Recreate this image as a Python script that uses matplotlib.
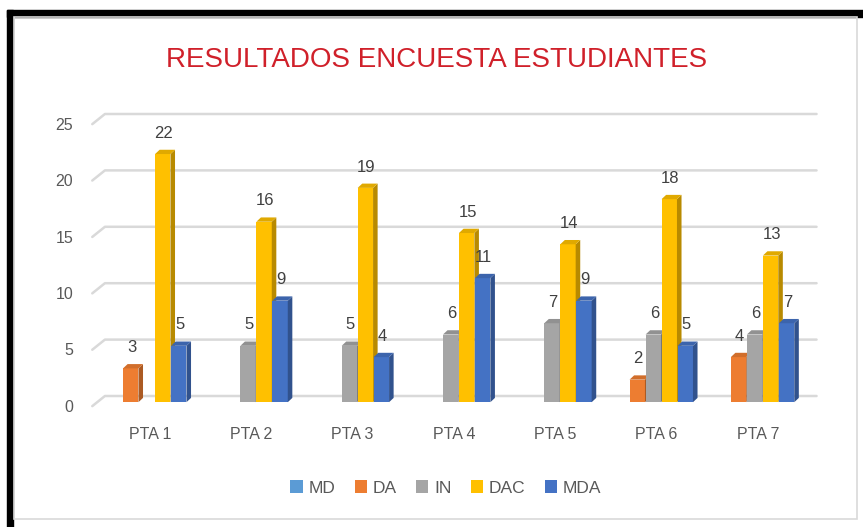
import matplotlib
matplotlib.use("Agg")
import matplotlib.pyplot as plt
from matplotlib.patches import Rectangle, Polygon, Patch
from matplotlib.colors import to_rgb

# ---- data ----
categories = ["PTA 1", "PTA 2", "PTA 3", "PTA 4", "PTA 5", "PTA 6", "PTA 7"]
series_names = ["MD", "DA", "IN", "DAC", "MDA"]
md = [None, None, None, None, None, None, None]
da = [3, None, None, None, None, 2, 4]
inn = [None, 5, 5, 6, 7, 6, 6]
dac = [22, 16, 19, 15, 14, 18, 13]
mda = [5, 9, 4, 11, 9, 5, 7]
series_values = [md, da, inn, dac, mda]
y_ticks = [0, 5, 10, 15, 20, 25]
title = "RESULTADOS ENCUESTA ESTUDIANTES"

colors = ["#5B9BD5", "#ED7D31", "#A5A5A5", "#FFC000", "#4472C4"]
FONT = "Liberation Sans"


def shade(c, f):
    return tuple(min(1, x * f) for x in to_rgb(c))


W, H = 863, 527
fig = plt.figure(figsize=(W / 100, H / 100), dpi=100)
fig.patch.set_facecolor("white")

# frame: black band on top/left, thin grey inner border
fig.patches.append(Rectangle((7 / W, 1 - 17 / H), (W - 7) / W, 7 / H,
                             transform=fig.transFigure, color="black", zorder=0))
fig.patches.append(Rectangle((7 / W, 0), 6 / W, 1 - 10 / H,
                             transform=fig.transFigure, color="black", zorder=0))
fig.patches.append(Rectangle((14 / W, 1 - 519 / H), 843 / W, 502 / H,
                             transform=fig.transFigure, fill=False,
                             edgecolor="#D9D9D9", lw=1.2, zorder=0))

# plot axes (category index on x, value on y)
x_px0, x_step = 150.0, 101.3
y_px0, y_step = 396.0, 11.28
xl = (-0.5, 6.5)
yl = (-1.0, 26.0)
left = (x_px0 + xl[0] * x_step) / W
width = (xl[1] - xl[0]) * x_step / W
top_px = y_px0 - yl[1] * y_step
bot_px = y_px0 - yl[0] * y_step
ax = fig.add_axes([left, 1 - bot_px / H, width, (bot_px - top_px) / H])
ax.set_xlim(*xl)
ax.set_ylim(*yl)
ax.axis("off")

# back-wall gridlines with perspective slant at the left
grid_c = "#D9D9D9"
for t in y_ticks:
    ax.plot([-0.57, -0.445, 6.58], [t - 0.9, t, t], color=grid_c, lw=1.8,
            clip_on=False, zorder=1, solid_capstyle="round")
    ax.text(-0.76, t - 1.0, str(t), ha="right", va="center", fontsize=11.5,
            color="#595959", family=FONT)

for i, c in enumerate(categories):
    ax.text(i, -3.45, c, ha="center", va="center", fontsize=11.5,
            color="#595959", family=FONT, clip_on=False)

# 3-D style columns
slot = 0.158
fw = 0.152
dx, dy = 0.045, 0.38
base = -0.55
for i in range(len(categories)):
    for j, vals in enumerate(series_values):
        v = vals[i]
        if v is None:
            continue
        col = colors[j]
        x0 = i - 0.424 + j * slot
        x1 = x0 + fw
        yt = base + v
        z = 2 + j * 0.1
        ax.add_patch(Rectangle((x0, base), fw, v, facecolor=col,
                               edgecolor="none", zorder=z))
        ax.add_patch(Polygon([(x1, base), (x1 + dx, base + dy),
                              (x1 + dx, yt + dy), (x1, yt)],
                             facecolor=shade(col, 0.72), edgecolor="none", zorder=z))
        ax.add_patch(Polygon([(x0, yt), (x1, yt), (x1 + dx, yt + dy),
                              (x0 + dx, yt + dy)],
                             facecolor=shade(col, 0.88), edgecolor="none", zorder=z))
        ax.text((x0 + x1) / 2 + 0.01, v + 1.3, str(v), ha="center", va="center",
                fontsize=12, color="#404040", family=FONT, zorder=5)

fig.text(437 / W, 1 - 60 / H, title, ha="center", va="center", fontsize=20,
         color="#D0202A", family=FONT)

handles = [Patch(facecolor=c, edgecolor="none", label=n)
           for n, c in zip(series_names, colors)]
fig.legend(handles=handles, loc="center", bbox_to_anchor=(446 / W, 1 - 488 / H),
           ncol=5, frameon=False, handlelength=0.7, handleheight=0.7,
           handletextpad=0.35, columnspacing=1.1, labelcolor="#595959",
           prop={"family": FONT, "size": 12.5})

fig.savefig("out.png", dpi=100, facecolor="white")
